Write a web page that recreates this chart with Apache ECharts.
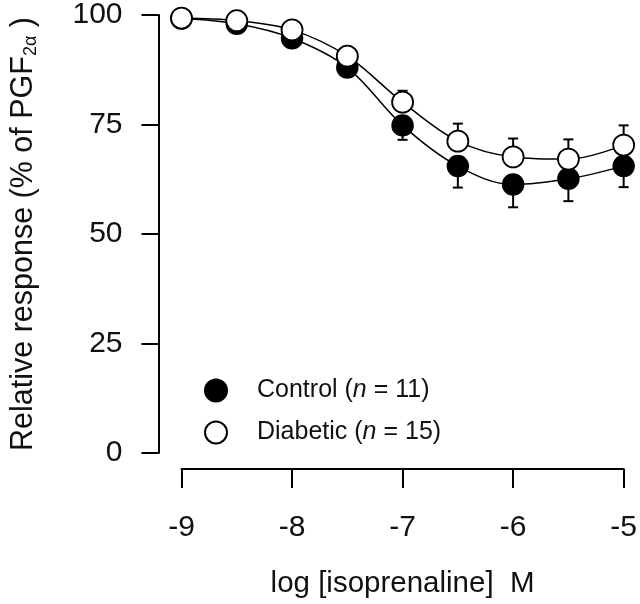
<!DOCTYPE html>
<html>
<head>
<meta charset="utf-8">
<script src="https://cdn.jsdelivr.net/npm/echarts@6/dist/echarts.min.js"></script>
<style>html,body{margin:0;padding:0;background:#fff;}#c{width:640px;height:604px;}</style>
</head>
<body>
<div id="c"></div>
<script>
const xValues = [-9, -8.5, -8, -7.5, -7, -6.5, -6, -5.5, -5];
const controlMean = [99.2, 98.0, 94.7, 88.0, 74.8, 65.5, 61.3, 62.6, 65.5];
const controlErr = [0, 0, 0, 0, 3.3, 4.9, 5.2, 5.1, 4.8];
const diabeticMean = [99.3, 98.7, 96.6, 90.6, 80.1, 71.2, 67.6, 67.1, 70.3];
const diabeticErr = [0, 0, 0, 0, 2.6, 4.0, 4.2, 4.5, 4.5];
const xTicks = [-9, -8, -7, -6, -5];
const yTicks = [0, 25, 50, 75, 100];
const controlName = 'Control';
const diabeticName = 'Diabetic';
const controlN = 11;
const diabeticN = 15;

const FONT = 'Liberation Sans, Arial, Helvetica, sans-serif';
const chart = echarts.init(document.getElementById('c'));

function pairs(xs, ys) { return xs.map((x, i) => [x, ys[i]]); }
function errData(xs, m, e) { return xs.map((x, i) => [x, m[i], e[i]]); }
function errRender(dir) {
  return function (params, api) {
    const x = api.value(0), m = api.value(1), e = api.value(2);
    if (!e) return null;
    const p0 = api.coord([x, m]);
    const p1 = api.coord([x, m + dir * e]);
    const style = { stroke: '#000', lineWidth: 2 };
    return {
      type: 'group',
      children: [
        { type: 'line', shape: { x1: p0[0], y1: p0[1], x2: p1[0], y2: p1[1] }, style: style },
        { type: 'line', shape: { x1: p1[0] - 5, y1: p1[1], x2: p1[0] + 5, y2: p1[1] }, style: style }
      ]
    };
  };
}

const option = {
  backgroundColor: '#fff',
  animation: false,
  textStyle: { fontFamily: FONT, color: '#111' },
  grid: { left: 177, right: 15, top: 13, bottom: 146, containLabel: false },
  legend: {
    orient: 'vertical',
    left: 199,
    top: 373,
    itemWidth: 22,
    itemHeight: 22,
    itemGap: 17,
    data: [
      { name: controlName, icon: 'circle' },
      { name: diabeticName, icon: 'circle' }
    ],
    formatter: function (name) {
      const n = name === controlName ? controlN : diabeticN;
      return name + ' ({i|n} = ' + n + ')';
    },
    textStyle: {
      fontFamily: FONT, fontSize: 25, color: '#111', padding: [0, 0, 0, 25],
      rich: { i: { fontFamily: FONT, fontSize: 25, fontStyle: 'italic', color: '#111' } }
    }
  },
  xAxis: {
    type: 'value',
    min: -9, max: -5, interval: 1,
    offset: 16,
    axisLine: { onZero: false, lineStyle: { color: '#000', width: 2 } },
    axisTick: { show: true, length: 19, lineStyle: { color: '#000', width: 2 } },
    axisLabel: {
      margin: 44, fontSize: 30, color: '#111', fontFamily: FONT,
      formatter: v => String(v)
    },
    splitLine: { show: false },
    name: 'log [isoprenaline]  M',
    nameLocation: 'middle',
    nameGap: 100,
    nameTextStyle: { fontSize: 29.5, color: '#111', fontFamily: FONT }
  },
  yAxis: {
    type: 'value',
    min: 0, max: 100, interval: 25,
    offset: 23,
    axisLine: { show: true, onZero: false, lineStyle: { color: '#000', width: 2 } },
    axisTick: { show: true, length: 17, lineStyle: { color: '#000', width: 2 } },
    axisLabel: { margin: 36, fontSize: 30, color: '#111', fontFamily: FONT },
    splitLine: { show: false },
    name: 'Relative response (% of PGF{s|2α} )',
    nameLocation: 'middle',
    nameGap: 118,
    nameTextStyle: {
      fontSize: 30.5, color: '#111', fontFamily: FONT,
      rich: { s: { fontSize: 18, fontFamily: FONT, color: '#111', verticalAlign: 'bottom', padding: [16, 0, 0, 0] } }
    }
  },
  series: [
    {
      type: 'custom', name: 'ctrlErr', renderItem: errRender(-1),
      data: errData(xValues, controlMean, controlErr), z: 1, silent: true
    },
    {
      type: 'custom', name: 'diabErr', renderItem: errRender(1),
      data: errData(xValues, diabeticMean, diabeticErr), z: 1, silent: true
    },
    {
      name: controlName, type: 'line', smooth: 0.35,
      data: pairs(xValues, controlMean),
      symbol: 'circle', symbolSize: 21, z: 3,
      lineStyle: { color: '#000', width: 1.5 },
      itemStyle: { color: '#000', borderColor: '#000', borderWidth: 1.5 }
    },
    {
      name: diabeticName, type: 'line', smooth: 0.35,
      data: pairs(xValues, diabeticMean),
      symbol: 'circle', symbolSize: 21, z: 4,
      lineStyle: { color: '#000', width: 1.5 },
      itemStyle: { color: '#fff', borderColor: '#000', borderWidth: 1.8 }
    }
  ]
};
chart.setOption(option);
</script>
</body>
</html>
